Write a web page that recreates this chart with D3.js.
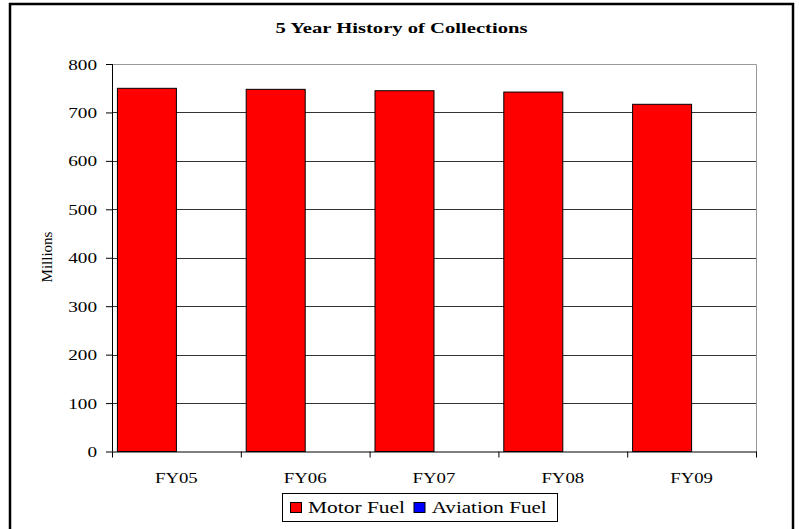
<!DOCTYPE html>
<html><head><meta charset="utf-8">
<script src="https://cdn.jsdelivr.net/npm/d3@7"></script>
<style>body{margin:0;background:#fff}svg{display:block}text{font-family:"Liberation Serif","Times New Roman",serif;fill:#000}</style>
</head><body><svg id="c" width="801" height="529"></svg>
<script>
const categories = ["FY05","FY06","FY07","FY08","FY09"];
const seriesNames = ["Motor Fuel","Aviation Fuel"];
const motorFuel = [749.8, 747.7, 744.8, 742.1, 716.8];
const aviationFuel = [0, 0, 0, 0, 0];
const yTicks = [0,100,200,300,400,500,600,700,800];
const colors = ["#ff0000","#0000ff"];

const svg = d3.select("#c");
const L=112, R=756, T=64, B=451.5;
function stretch(sel, f){ sel.each(function(){ const w=this.getComputedTextLength(); d3.select(this).attr("textLength",w*f).attr("lengthAdjust","spacingAndGlyphs"); }); }

// outer border
svg.append("rect").attr("x",10).attr("y",4).attr("width",783).attr("height",530)
  .attr("fill","#fff").attr("stroke","#000").attr("stroke-width",2.5);

const title = svg.append("text").attr("x",401.5).attr("y",33).attr("text-anchor","middle")
  .attr("font-weight","bold").attr("font-size",15).text("5 Year History of Collections");
title.attr("textLength",252).attr("lengthAdjust","spacingAndGlyphs");

const x = d3.scaleBand().domain(categories).range([L,R]).paddingInner(0).paddingOuter(0);
const y = d3.scaleLinear().domain([0,800]).range([B,T]);
const xs = d3.scaleBand().domain(seriesNames).range([0,x.bandwidth()]).paddingInner(0).paddingOuter(0.0915);

// gridlines
svg.append("g").selectAll("line").data(yTicks.filter(d=>d>0 && d<800)).join("line")
  .attr("x1",L).attr("x2",R).attr("y1",d=>Math.round(y(d))+0.5).attr("y2",d=>Math.round(y(d))+0.5)
  .attr("stroke","#333").attr("stroke-width",1);
// plot border (top/right)
svg.append("path").attr("d",`M${L},${Math.round(T)+0.5}H${R+0.5}V${B}`).attr("fill","none").attr("stroke","#999").attr("stroke-width",1);

// bars
const data = categories.map((c,i)=>({c, vals:[motorFuel[i], aviationFuel[i]]}));
const g = svg.append("g").selectAll("g").data(data).join("g").attr("transform",d=>`translate(${x(d.c)},0)`);
g.selectAll("rect").data(d=>d.vals.map((v,j)=>({v,j}))).join("rect")
  .attr("x",d=>xs(seriesNames[d.j])).attr("width",xs.bandwidth())
  .attr("y",d=>y(d.v)).attr("height",d=>B-y(d.v))
  .attr("fill",d=>colors[d.j]).attr("stroke","#000").attr("stroke-width",d=>d.v>0?1:0);

// y axis
const ya = svg.append("g").attr("transform",`translate(${L},0)`)
  .call(d3.axisLeft(y).tickValues(yTicks).tickSize(6).tickPadding(9).tickFormat(d3.format("d")));
ya.select(".domain").attr("stroke","#000").attr("d",`M0.5,${T}V${B}`);
ya.selectAll(".tick line").attr("stroke","#000");
ya.selectAll("text").attr("font-size",15).attr("font-family","Liberation Serif").attr("dy","0.34em");
stretch(ya.selectAll("text"),1.28);

// x axis
const xa = svg.append("g").attr("transform",`translate(0,${B})`);
xa.append("line").attr("x1",L).attr("x2",R+0.5).attr("y1",0.5).attr("y2",0.5).attr("stroke","#000");
const bounds = categories.map(c=>x(c)).concat([R]);
xa.selectAll("line.t").data(bounds).join("line").attr("class","t")
  .attr("x1",d=>d+0.5).attr("x2",d=>d+0.5).attr("y1",0).attr("y2",6).attr("stroke","#000");
const xl = xa.selectAll("text").data(categories).join("text")
  .attr("x",d=>x(d)+x.bandwidth()/2).attr("y",31).attr("text-anchor","middle")
  .attr("font-size",15).text(d=>d);
stretch(xl,1.25);

// y label
const yl = svg.append("text").attr("transform","translate(51.5,257) rotate(-90)").attr("text-anchor","middle")
  .attr("font-size",15).text("Millions");
stretch(yl,1.0);

// legend
const lg = svg.append("g");
lg.append("rect").attr("x",282.5).attr("y",493.5).attr("width",275).attr("height",28).attr("fill","#fff").attr("stroke","#000");
const items = [{n:seriesNames[0],c:colors[0],x:290,tx:308,w:97},{n:seriesNames[1],c:colors[1],x:413.5,tx:431.7,w:115}];
items.forEach(it=>{
  lg.append("rect").attr("x",it.x+0.5).attr("y",502.5).attr("width",11).attr("height",10).attr("fill",it.c).attr("stroke","#000");
  lg.append("text").attr("x",it.tx).attr("y",513).attr("font-size",16.5).attr("textLength",it.w).attr("lengthAdjust","spacingAndGlyphs").text(it.n);
});
</script></body></html>
